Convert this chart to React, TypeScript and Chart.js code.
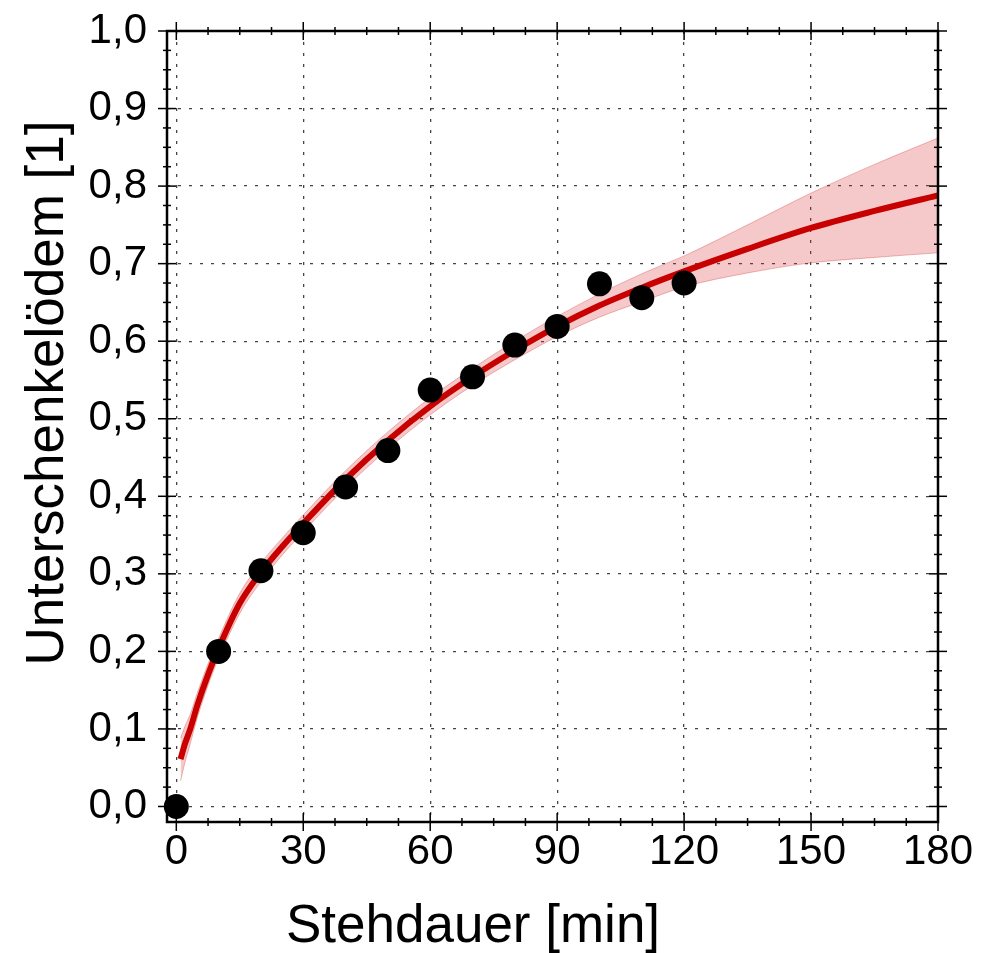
import React, { useEffect, useRef } from 'react';
import { Chart, registerables } from 'chart.js';

Chart.register(...registerables);

const FONT = '"Liberation Sans", Arial, Helvetica, sans-serif';

const xTitle = 'Stehdauer [min]';
const yTitle = 'Unterschenkelödem [1]';

const xTickValues = [0, 30, 60, 90, 120, 150, 180];
const yTickValues = [0, 0.1, 0.2, 0.3, 0.4, 0.5, 0.6, 0.7, 0.8, 0.9, 1.0];

const measX = [0, 10, 20, 30, 40, 50, 60, 70, 80, 90, 100, 110, 120];
const measY = [0.0, 0.2, 0.304, 0.353, 0.412, 0.459, 0.537, 0.554, 0.595, 0.619, 0.674, 0.656, 0.675];

const fitX = [1, 2, 3.3, 5, 7.5, 10, 15, 20, 25, 30, 40, 50, 60, 70, 80, 90, 100, 110, 120, 135, 150, 165, 180];
const fitY = [0.061, 0.08, 0.1, 0.131, 0.17, 0.204, 0.262, 0.302, 0.335, 0.365, 0.422, 0.472, 0.516, 0.554, 0.588, 0.619, 0.646, 0.669, 0.69, 0.719, 0.746, 0.768, 0.788];
const bandUpper = [0.088, 0.103, 0.119, 0.147, 0.184, 0.217, 0.275, 0.314, 0.346, 0.376, 0.433, 0.483, 0.527, 0.565, 0.6, 0.632, 0.661, 0.687, 0.71, 0.75, 0.791, 0.828, 0.862];
const bandLower = [0.033, 0.056, 0.081, 0.115, 0.156, 0.191, 0.249, 0.29, 0.324, 0.354, 0.411, 0.461, 0.505, 0.543, 0.576, 0.606, 0.631, 0.651, 0.67, 0.688, 0.701, 0.708, 0.714];

const pts = (xs: number[], ys: number[]) => xs.map((x, i) => ({ x, y: ys[i] }));

export default function App() {
  const ref = useRef<HTMLCanvasElement>(null);

  useEffect(() => {
    document.body.style.margin = '0';
    const canvas = ref.current;
    if (!canvas) return;

    const framePlugin = {
      id: 'frameTicks',
      afterDraw(chart: any) {
        const { ctx, chartArea: a, scales } = chart;
        const xs = scales.x;
        const ys = scales.y;
        ctx.save();
        ctx.strokeStyle = '#000';
        ctx.lineWidth = 1.5;
        const seg = (x1: number, y1: number, x2: number, y2: number) => {
          ctx.beginPath();
          ctx.moveTo(x1, y1);
          ctx.lineTo(x2, y2);
          ctx.stroke();
        };
        for (let i = 0; i <= 24; i++) {
          const v = i * 7.5;
          const L = i % 4 === 0 ? 9 : 4;
          const px = xs.getPixelForValue(v);
          seg(px, a.bottom - L, px, a.bottom + L);
          seg(px, a.top - L, px, a.top + L);
        }
        for (let i = 0; i <= 40; i++) {
          const v = i * 0.025;
          const L = i % 4 === 0 ? 9 : 4;
          const py = ys.getPixelForValue(v);
          seg(a.left - L, py, a.left + L, py);
          seg(a.right - L, py, a.right + L, py);
        }
        ctx.lineWidth = 2.5;
        ctx.strokeRect(a.left, a.top, a.right - a.left, a.bottom - a.top);

        ctx.fillStyle = '#000';
        ctx.font = `53px ${FONT}`;
        ctx.textAlign = 'center';
        ctx.textBaseline = 'alphabetic';
        ctx.fillText(xTitle, 473, 942);
        ctx.translate(63, 393);
        ctx.rotate(-Math.PI / 2);
        ctx.fillText(yTitle, 0, 0);
        ctx.restore();
      },
    };

    const chart = new Chart(canvas, {
      type: 'line',
      data: {
        datasets: [
          {
            label: 'Messwerte',
            data: pts(measX, measY),
            showLine: false,
            pointRadius: 12.5,
            pointBackgroundColor: '#000',
            pointBorderWidth: 0,
            pointBorderColor: '#000',
            order: 0,
            clip: false as any,
          },
          {
            label: 'Fit',
            data: pts(fitX, fitY),
            borderColor: '#c80000',
            borderWidth: 6,
            pointRadius: 0,
            fill: false,
            cubicInterpolationMode: 'monotone',
            order: 1,
          },
          {
            label: 'Oben',
            data: pts(fitX, bandUpper),
            borderColor: 'rgba(210,60,60,0.35)',
            borderWidth: 1,
            backgroundColor: 'rgba(215,40,40,0.25)',
            pointRadius: 0,
            fill: '+1',
            cubicInterpolationMode: 'monotone',
            order: 2,
          },
          {
            label: 'Unten',
            data: pts(fitX, bandLower),
            borderColor: 'rgba(210,60,60,0.35)',
            borderWidth: 1,
            pointRadius: 0,
            fill: false,
            cubicInterpolationMode: 'monotone',
            order: 3,
          },
        ],
      },
      options: {
        animation: false,
        responsive: false,
        events: [],
        layout: { padding: { top: 31, right: 43, left: 0, bottom: 0 } },
        plugins: { legend: { display: false }, tooltip: { enabled: false }, title: { display: false } },
        scales: {
          x: {
            type: 'linear',
            position: 'bottom',
            min: -2.2,
            max: 180,
            afterBuildTicks: (s: any) => {
              s.ticks = xTickValues.map((v) => ({ value: v }));
            },
            afterFit: (s: any) => {
              s.height = 131;
              s.paddingLeft = 0;
              s.paddingRight = 0;
            },
            grid: { color: '#444', lineWidth: 1.3, drawTicks: false },
            border: { display: false, dash: [3, 8] },
            ticks: {
              font: { size: 42, family: FONT },
              color: '#000',
              padding: 5,
              maxRotation: 0,
              autoSkip: false,
              callback: (v: any) => String(v),
            },
          },
          y: {
            type: 'linear',
            position: 'left',
            min: -0.02,
            max: 1.0,
            afterBuildTicks: (s: any) => {
              s.ticks = yTickValues.map((v) => ({ value: v }));
            },
            afterFit: (s: any) => {
              s.width = 167;
              s.paddingTop = 0;
              s.paddingBottom = 0;
            },
            grid: { color: '#444', lineWidth: 1.3, drawTicks: false },
            border: { display: false, dash: [3, 8] },
            ticks: {
              font: { size: 42, family: FONT },
              color: '#000',
              padding: 20,
              autoSkip: false,
              callback: (v: any) => Number(v).toFixed(1).replace('.', ','),
            },
          },
        },
      },
      plugins: [framePlugin],
    } as any);

    return () => chart.destroy();
  }, []);

  return <canvas ref={ref} width={981} height={953} style={{ display: 'block' }} />;
}
